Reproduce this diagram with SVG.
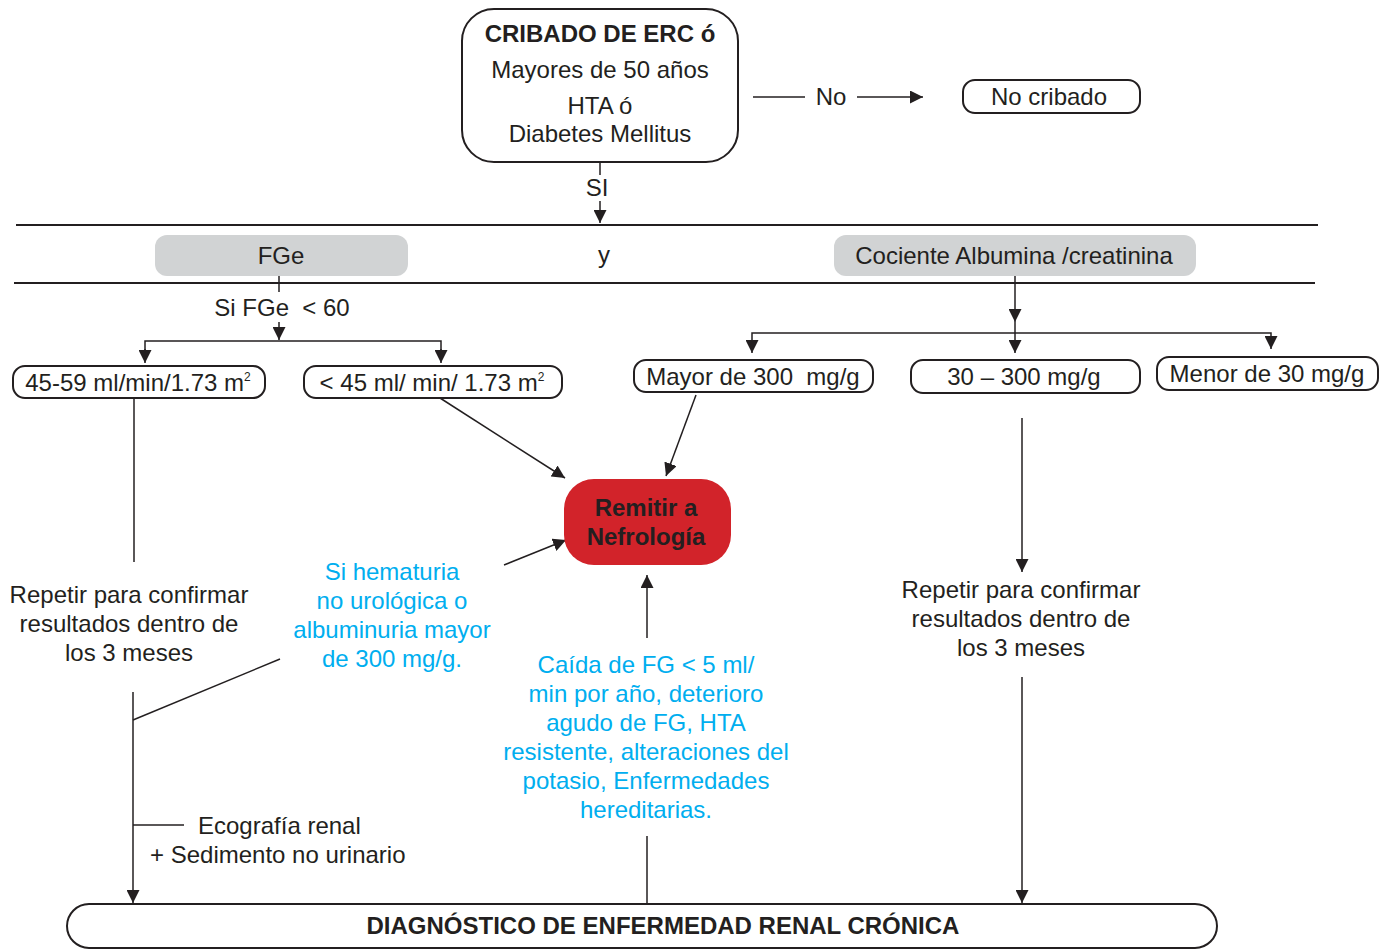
<svg xmlns="http://www.w3.org/2000/svg" width="1391" height="950" viewBox="0 0 1391 950">
<defs>
<marker id="ah" viewBox="0 0 13 13" refX="13" refY="6.5" markerWidth="13" markerHeight="13" markerUnits="userSpaceOnUse" orient="auto">
<path d="M0,0 L13,6.5 L0,13 Z" fill="#231f20"/>
</marker>
</defs>
<style>
text{font-family:"Liberation Sans",Arial,sans-serif;font-size:24px;fill:#231f20;text-anchor:middle}
.b{font-weight:bold}
.blue{fill:#00aeef}
.box{fill:#fff;stroke:#231f20;stroke-width:2}
.gray{fill:#d1d3d4}
.red{fill:#d2232a}
.ln{stroke:#231f20;stroke-width:1.5;fill:none}
.ar{stroke:#231f20;stroke-width:1.5;fill:none;marker-end:url(#ah)}
</style>
<rect width="1391" height="950" fill="#fff"/>

<g id="connectors">
<line class="ln" x1="753" y1="97" x2="805" y2="97"/>
<line class="ar" x1="857" y1="97" x2="923" y2="97"/>
<line class="ln" x1="600" y1="162" x2="600" y2="175"/>
<line class="ar" x1="600" y1="201" x2="600" y2="223"/>
<line class="ln" x1="16" y1="225" x2="1318" y2="225" style="stroke-width:1.8"/>
<line class="ln" x1="14" y1="283" x2="1315" y2="283" style="stroke-width:1.8"/>
<line class="ln" x1="279" y1="276" x2="279" y2="292"/>
<line class="ar" x1="279" y1="322" x2="279" y2="340"/>
<polyline class="ln" points="145,350 145,341 441,341 441,350"/>
<line class="ar" x1="145" y1="349" x2="145" y2="363"/>
<line class="ar" x1="441" y1="349" x2="441" y2="363"/>
<line class="ar" x1="1015" y1="276" x2="1015" y2="322"/>
<polyline class="ln" points="752,342 752,333 1271,333 1271,338"/>
<line class="ln" x1="1015" y1="322" x2="1015" y2="333"/>
<line class="ar" x1="752" y1="340" x2="752" y2="353"/>
<line class="ar" x1="1015" y1="333" x2="1015" y2="353"/>
<line class="ar" x1="1271" y1="336" x2="1271" y2="349"/>
<line class="ar" x1="440" y1="398" x2="565" y2="478"/>
<line class="ar" x1="696" y1="395" x2="666" y2="476"/>
<line class="ar" x1="504" y1="565" x2="566" y2="540"/>
<line class="ar" x1="647" y1="638" x2="647" y2="575"/>
<line class="ln" x1="134" y1="398" x2="134" y2="562"/>
<line class="ar" x1="133" y1="692" x2="133" y2="903"/>
<line class="ln" x1="133" y1="720" x2="280" y2="659"/>
<line class="ln" x1="133" y1="825" x2="184" y2="825"/>
<line class="ln" x1="647" y1="836" x2="647" y2="905"/>
<line class="ar" x1="1022" y1="418" x2="1022" y2="572"/>
<line class="ar" x1="1022" y1="677" x2="1022" y2="903"/>
</g>

<g id="n-cribado">
<rect class="box" x="462" y="9" width="276" height="153" rx="32"/>
<text class="b" x="600" y="42">CRIBADO DE ERC ó</text>
<text x="600" y="78">Mayores de 50 años</text>
<text x="600" y="114">HTA ó</text>
<text x="600" y="142">Diabetes Mellitus</text>
</g>
<g id="l-no"><text x="831" y="105">No</text></g>
<g id="n-nocribado">
<rect class="box" x="963" y="80" width="177" height="33" rx="12"/>
<text x="1049" y="105">No cribado</text>
</g>
<g id="l-si"><text x="597" y="196">SI</text></g>
<g id="n-fge">
<rect class="gray" x="155" y="235" width="253" height="41" rx="12"/>
<text x="281" y="264">FGe</text>
</g>
<g id="l-y"><text x="604" y="263">y</text></g>
<g id="n-cociente">
<rect class="gray" x="834" y="235" width="362" height="41" rx="12"/>
<text x="1014" y="264">Cociente Albumina /creatinina</text>
</g>
<g id="l-sifge"><text x="282" y="316">Si FGe &#160;&lt; 60</text></g>
<g id="n-4559">
<rect class="box" x="13" y="366" width="252" height="32" rx="12"/>
<text x="138" y="391">45-59 ml/min/1.73 m<tspan font-size="12" dy="-10">2</tspan></text>
</g>
<g id="n-45">
<rect class="box" x="304" y="366" width="258" height="32" rx="12"/>
<text x="432" y="391">&lt; 45 ml/ min/ 1.73 m<tspan font-size="12" dy="-10">2</tspan></text>
</g>
<g id="n-mayor300">
<rect class="box" x="634" y="360" width="239" height="32" rx="12"/>
<text x="753" y="385">Mayor de 300 &#160;mg/g</text>
</g>
<g id="n-30300">
<rect class="box" x="911" y="360" width="229" height="33" rx="12"/>
<text x="1024" y="385">30 – 300 mg/g</text>
</g>
<g id="n-menor30">
<rect class="box" x="1157" y="357" width="221" height="33" rx="12"/>
<text x="1267" y="382">Menor de 30 mg/g</text>
</g>
<g id="n-remitir">
<rect class="red" x="564" y="479" width="167" height="86" rx="30"/>
<text class="b" x="646" y="516">Remitir a</text>
<text class="b" x="646" y="545">Nefrología</text>
</g>
<g id="t-repetir-left">
<text x="129" y="603">Repetir para confirmar</text>
<text x="129" y="632">resultados dentro de</text>
<text x="129" y="661">los 3 meses</text>
</g>
<g id="t-hematuria">
<text class="blue" x="392" y="580">Si hematuria</text>
<text class="blue" x="392" y="609">no urológica o</text>
<text class="blue" x="392" y="638">albuminuria mayor</text>
<text class="blue" x="392" y="667">de 300 mg/g.</text>
</g>
<g id="t-caida">
<text class="blue" x="646" y="673">Caída de FG &lt; 5 ml/</text>
<text class="blue" x="646" y="702">min por año, deterioro</text>
<text class="blue" x="646" y="731">agudo de FG, HTA</text>
<text class="blue" x="646" y="760">resistente, alteraciones del</text>
<text class="blue" x="646" y="789">potasio, Enfermedades</text>
<text class="blue" x="646" y="818">hereditarias.</text>
</g>
<g id="t-repetir-right">
<text x="1021" y="598">Repetir para confirmar</text>
<text x="1021" y="627">resultados dentro de</text>
<text x="1021" y="656">los 3 meses</text>
</g>
<g id="t-eco">
<text x="198" y="834" style="text-anchor:start">Ecografía renal</text>
<text x="150" y="863" style="text-anchor:start">+ Sedimento no urinario</text>
</g>
<g id="n-diagnostico">
<rect class="box" x="67" y="904" width="1150" height="44" rx="22"/>
<text class="b" x="663" y="934">DIAGNÓSTICO DE ENFERMEDAD RENAL CRÓNICA</text>
</g>
</svg>
